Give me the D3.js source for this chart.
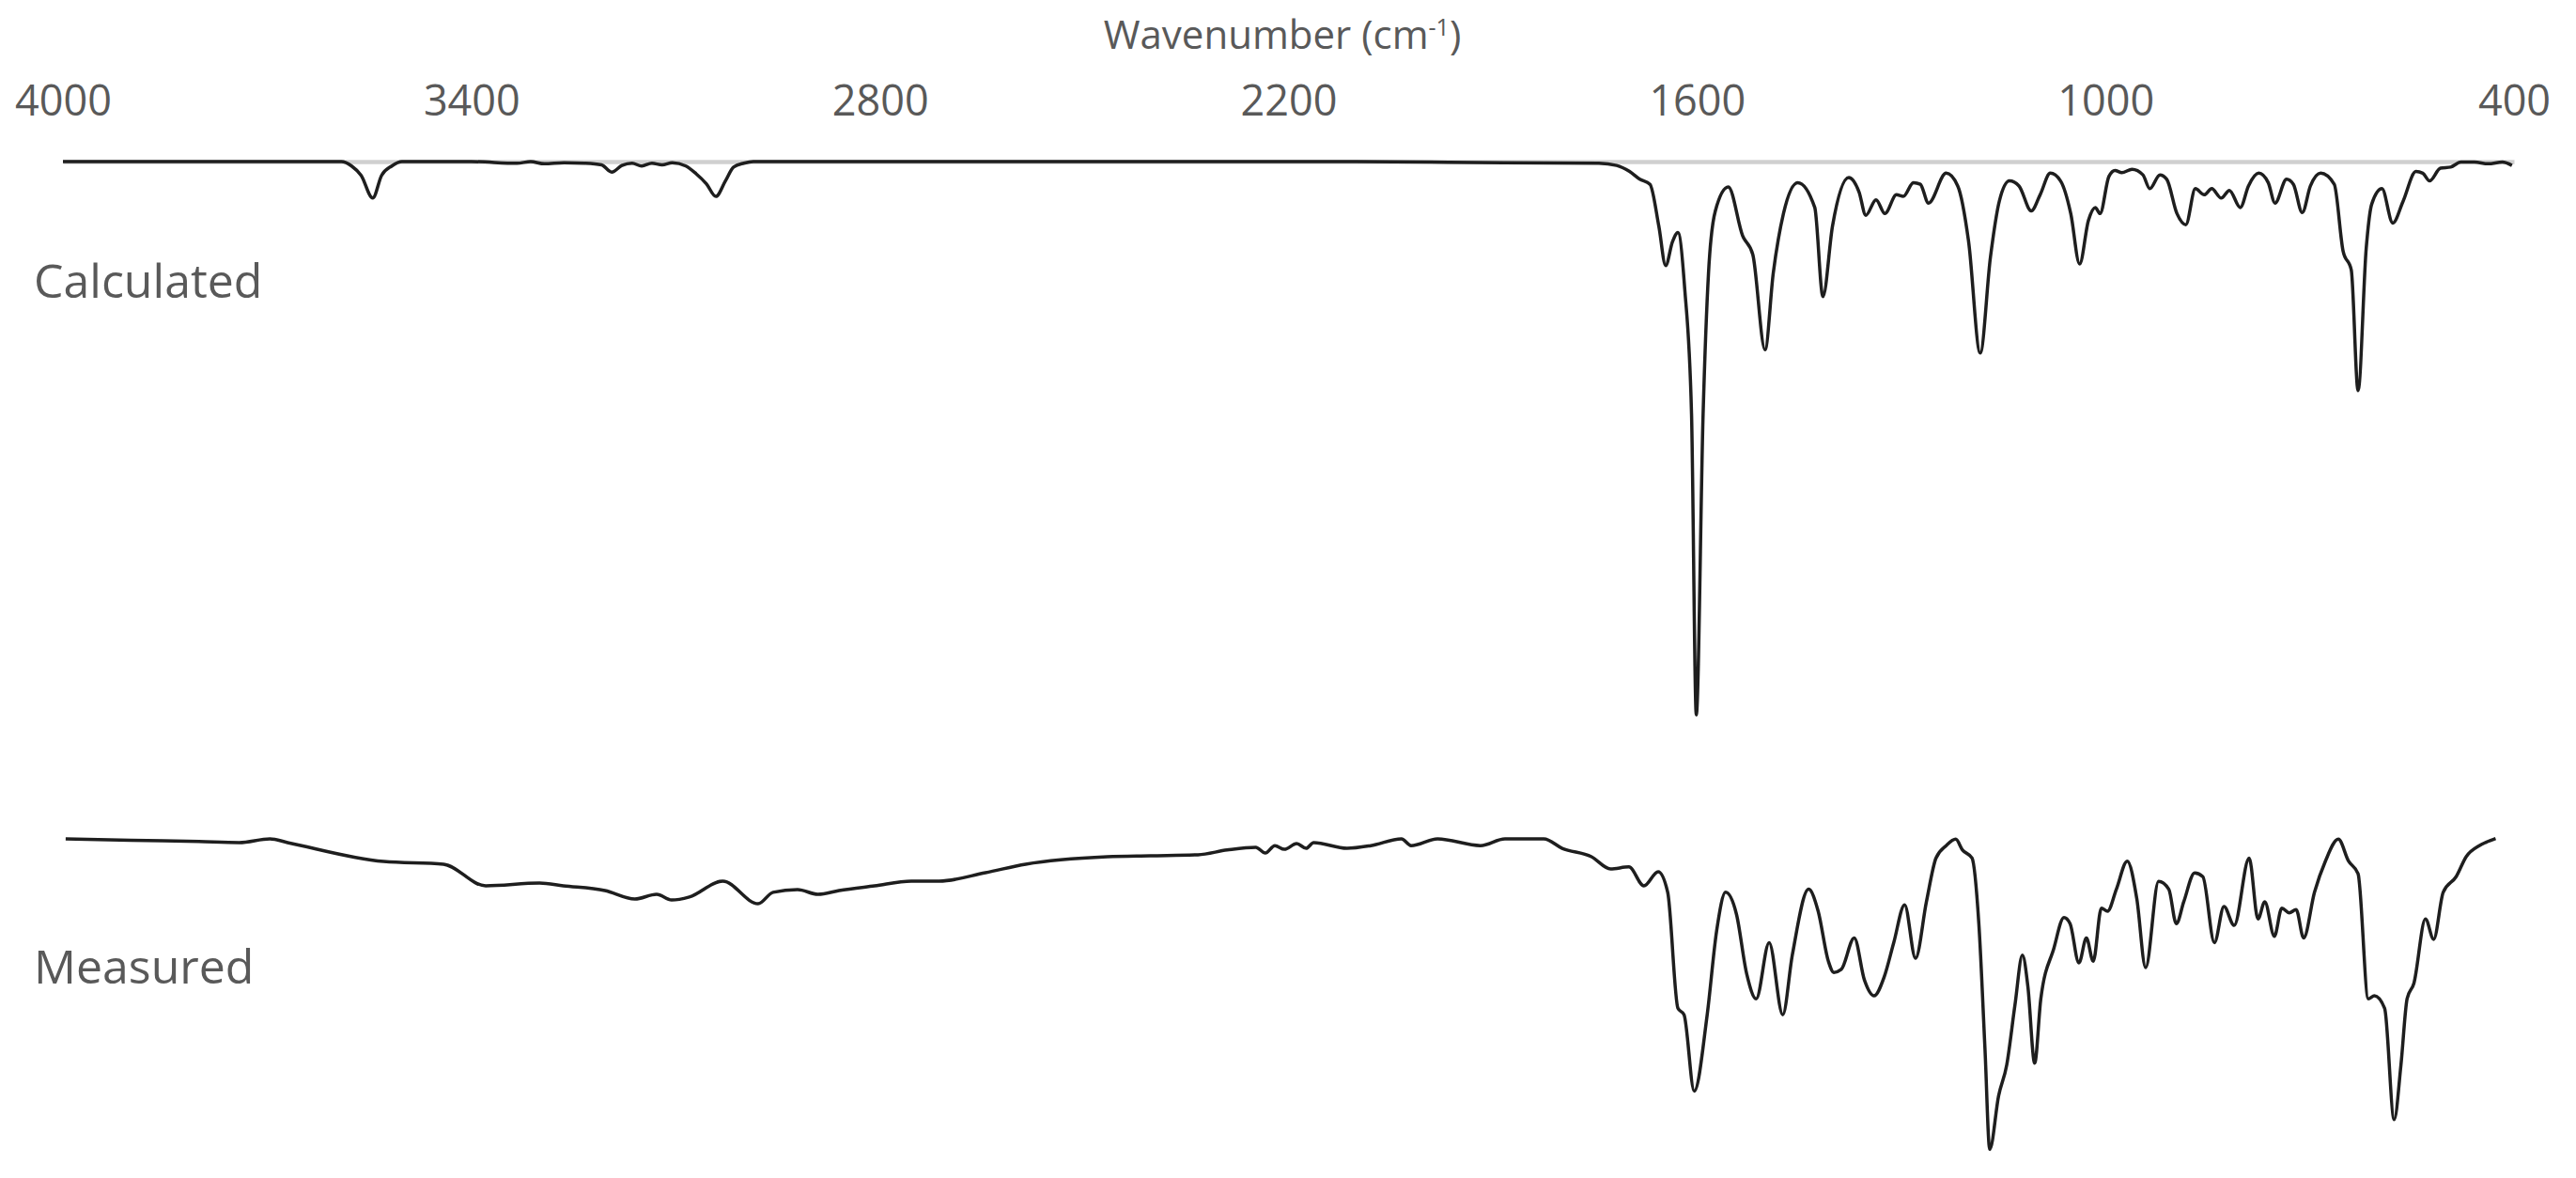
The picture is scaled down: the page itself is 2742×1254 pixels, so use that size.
<!DOCTYPE html>
<html>
<head>
<meta charset="utf-8">
<script src="https://cdn.jsdelivr.net/npm/d3@7"></script>
<style>
    body { margin: 0; background: #fff; }
    text { font-family: "Open Sans", Lato, sans-serif; fill: #595959; }
</style>
</head>
<body>
<div id="chart"></div>
<script>
// Ticks of the wavenumber axis
const tickLabels = [4000, 3400, 2800, 2200, 1600, 1000, 400];

// Calculated spectrum : wavenumber (cm-1) and relative intensity (0 = baseline, -100 = strongest band)
const calcWavenumber = [4000, 3700, 3591, 3576, 3562, 3545, 3532, 3517, 3502, 3400, 3333, 3313, 3293, 3264, 3234, 3209, 3194, 3179, 3164, 3150, 3135, 3120, 3105, 3085, 3070, 3055, 3041, 3027, 3015, 3000, 2986,
    2500, 2100, 1884, 1744, 1718, 1699, 1684, 1669, 1656, 1646, 1636, 1628, 1618, 1608, 1601, 1591, 1583, 1573, 1554, 1533, 1518, 1500, 1488, 1473, 1452, 1427, 1415, 1401, 1377, 1362, 1352, 1337, 1324, 1307, 1297, 1282, 1272, 1260, 1234, 1217, 1201, 1184, 1169, 1156, 1141, 1127, 1109, 1096, 1081, 1066, 1051, 1038, 1025, 1015, 1008, 995, 986, 976, 961, 945, 935, 920, 910, 895, 882, 868, 855, 844, 830, 818, 802, 790, 775, 761, 751, 734, 724, 711, 699, 684, 664, 651, 639, 629, 617, 609, 594, 578, 563, 544, 534, 524, 508, 493, 478, 458, 438, 417, 403];
const calcIntensity = [0, 0, 0, -0.8, -2.5, -6.6, -2.5, -0.8, 0, 0, -0.3, 0, -0.4, -0.2, -0.3, -0.6, -1.9, -0.7, -0.3, -0.8, -0.3, -0.6, -0.2, -0.8, -2.2, -4.0, -6.3, -3.5, -1.0, -0.3, 0,
    0, 0, -0.2, -0.3, -0.7, -1.8, -3.2, -4.1, -11.7, -18.8, -14.5, -12.8, -23, -45.6, -100, -45.6, -20, -8.9, -4.6, -13.4, -16.8, -34, -20.2, -9.4, -3.8, -8.3, -24.4, -11.7, -2.9, -5.5, -9.7, -6.9, -9.4, -6.0, -6.3, -3.8, -4.1, -7.5, -2.1, -4.4, -14.5, -34.6, -17.3, -7.2, -3.5, -4.4, -8.9, -6.0, -2.1, -3.5, -9.4, -18.5, -10.6, -8.3, -9.4, -2.7, -1.6, -2.0, -1.4, -2.4, -4.9, -2.4, -3.2, -9.4, -11.4, -4.9, -6.0, -4.9, -6.6, -5.2, -8.3, -4.4, -2.1, -3.8, -7.5, -3.2, -4.1, -9.2, -4.4, -2.1, -4.1, -16.2, -19.6, -41.4, -15.6, -7.7, -4.9, -11.1, -7.2, -1.8, -2.1, -3.5, -1.2, -1.0, -0.1, -0.1, -0.4, -0.1, -0.7];

// Measured spectrum : wavenumber (cm-1) and transmittance (%)
const measWavenumber = [3996, 3900, 3800, 3741, 3696, 3670, 3529, 3441, 3379, 3300, 3265, 3204, 3160, 3128, 3106, 3080, 3031, 2979, 2957, 2921, 2891, 2860, 2808, 2754, 2713, 2645, 2586, 2466, 2403, 2333, 2290, 2248, 2234, 2220, 2206, 2188, 2174, 2163, 2114, 2079, 2034, 2020, 1981, 1918, 1882, 1825, 1798, 1755, 1727, 1700, 1678, 1657, 1643,
    1628, 1619, 1604, 1585, 1571, 1558, 1542, 1527, 1513, 1494, 1474, 1460, 1436, 1422, 1407, 1399, 1388, 1369, 1354, 1340, 1325, 1311, 1295, 1279, 1263, 1249, 1234, 1220, 1210, 1196, 1186, 1177, 1170, 1157, 1145, 1133, 1122, 1114, 1104, 1095, 1076, 1061, 1052, 1039, 1028, 1018, 1006, 997, 984, 968, 954, 941, 922, 907, 896, 885, 869, 857, 840, 826, 811, 789, 776, 766, 752, 741, 730, 720, 709, 693, 677, 658, 643, 629, 614, 605, 590, 576, 566, 557, 547, 530, 518, 504, 485, 470, 451, 441, 427];
const measTransmittance = [96.4, 96.0, 95.6, 95.3, 96.4, 95.3, 89.7, 88.9, 82.5, 83.3, 82.5, 81.1, 78.6, 80.0, 78.3, 79.2, 83.9, 77.2, 80.6, 81.4, 80.0, 81.1, 82.5, 83.9, 83.9, 86.4, 88.9, 91.1, 91.4, 91.7, 93.1, 93.9, 92.2, 94.4, 93.3, 95.0, 93.6, 95.3, 93.6, 94.4, 96.4, 94.4, 96.4, 94.4, 96.4, 96.4, 93.6, 91.1, 87.5, 88.1, 82.5, 86.7, 80.6,
    46.3, 44.4, 21.8, 44.4, 69.4, 80.6, 74.1, 56.5, 49.1, 65.7, 44.4, 62.0, 81.5, 75, 60.2, 56.9, 57.8, 67.1, 54.6, 50, 55.6, 65.7, 76.9, 61.1, 77.8, 90.7, 94.4, 96.3, 93.1, 90.7, 71.3, 34.3, 4.6, 20.4, 29.6, 47.2, 62.0, 52.8, 30.1, 49.1, 63.9, 73.1, 71.3, 59.7, 67.1, 60.2, 75.9, 75, 81.5, 89.8, 78.7, 58.3, 83.8, 81.5, 71.3, 77.8, 86.3, 85.2, 65.7, 76.4, 70.8, 90.7, 72.7, 77.8, 67.6, 75.9, 74.5, 75.5, 67.1, 80.6, 89.8, 96.3, 89.8, 86.1, 49.1, 50, 46.3, 13.4, 29.6, 49.1, 53.7, 72.7, 66.7, 80.6, 85.2, 91.2, 94.4, 95.4, 96.5];

const width = 2742;
const height = 1254;

const calculated = calcWavenumber.map((w, i) => ({w: w, v: calcIntensity[i]}));
const measured = measWavenumber.map((w, i) => ({w: w, v: measTransmittance[i]}));

// Echelles
const x = d3.scaleLinear()
    .domain([4000, 400])
    .range([67, 2676]);

const yCalc = d3.scaleLinear()
    .domain([0, -100])
    .range([172, 761]);

const yMeas = d3.scaleLinear()
    .domain([0, 100])
    .range([1240, 880]);

const svg = d3.select("#chart")
    .append("svg")
    .attr("width", width)
    .attr("height", height);

// Axe des x en haut
const axis = svg.append("g")
    .attr("transform", `translate(0,${yCalc(0)})`)
    .call(d3.axisTop(x).tickValues(tickLabels).tickSize(0).tickSizeOuter(0).tickPadding(49).tickFormat(d3.format("d")));
axis.select(".domain")
    .attr("stroke", "#d0d0d0")
    .attr("stroke-width", 4.5);
axis.selectAll("text")
    .style("font-size", "45px")
    .attr("fill", "#595959");

// Titre de l'axe
const title = svg.append("text")
    .attr("x", 1365)
    .attr("y", 52)
    .attr("text-anchor", "middle")
    .style("font-size", "42px");
title.append("tspan").text("Wavenumber (cm");
title.append("tspan").attr("dy", -14).style("font-size", "25px").text("-1");
title.append("tspan").attr("dy", 14).text(")");

// Courbes
const lineCalc = d3.line()
    .x(d => x(d.w))
    .y(d => yCalc(d.v))
    .curve(d3.curveMonotoneX);

const lineMeas = d3.line()
    .x(d => x(d.w))
    .y(d => yMeas(d.v))
    .curve(d3.curveMonotoneX);

svg.append("path")
    .datum(calculated)
    .attr("d", lineCalc)
    .attr("fill", "none")
    .attr("stroke", "#1e1e1e")
    .attr("stroke-width", 3.5)
    .attr("stroke-linejoin", "round");

svg.append("path")
    .datum(measured)
    .attr("d", lineMeas)
    .attr("fill", "none")
    .attr("stroke", "#1e1e1e")
    .attr("stroke-width", 3.5)
    .attr("stroke-linejoin", "round");

// Etiquettes des spectres
svg.append("text")
    .attr("x", 36)
    .attr("y", 317)
    .style("font-size", "50px")
    .text("Calculated");

svg.append("text")
    .attr("x", 36)
    .attr("y", 1047)
    .style("font-size", "50px")
    .text("Measured");
</script>
</body>
</html>
